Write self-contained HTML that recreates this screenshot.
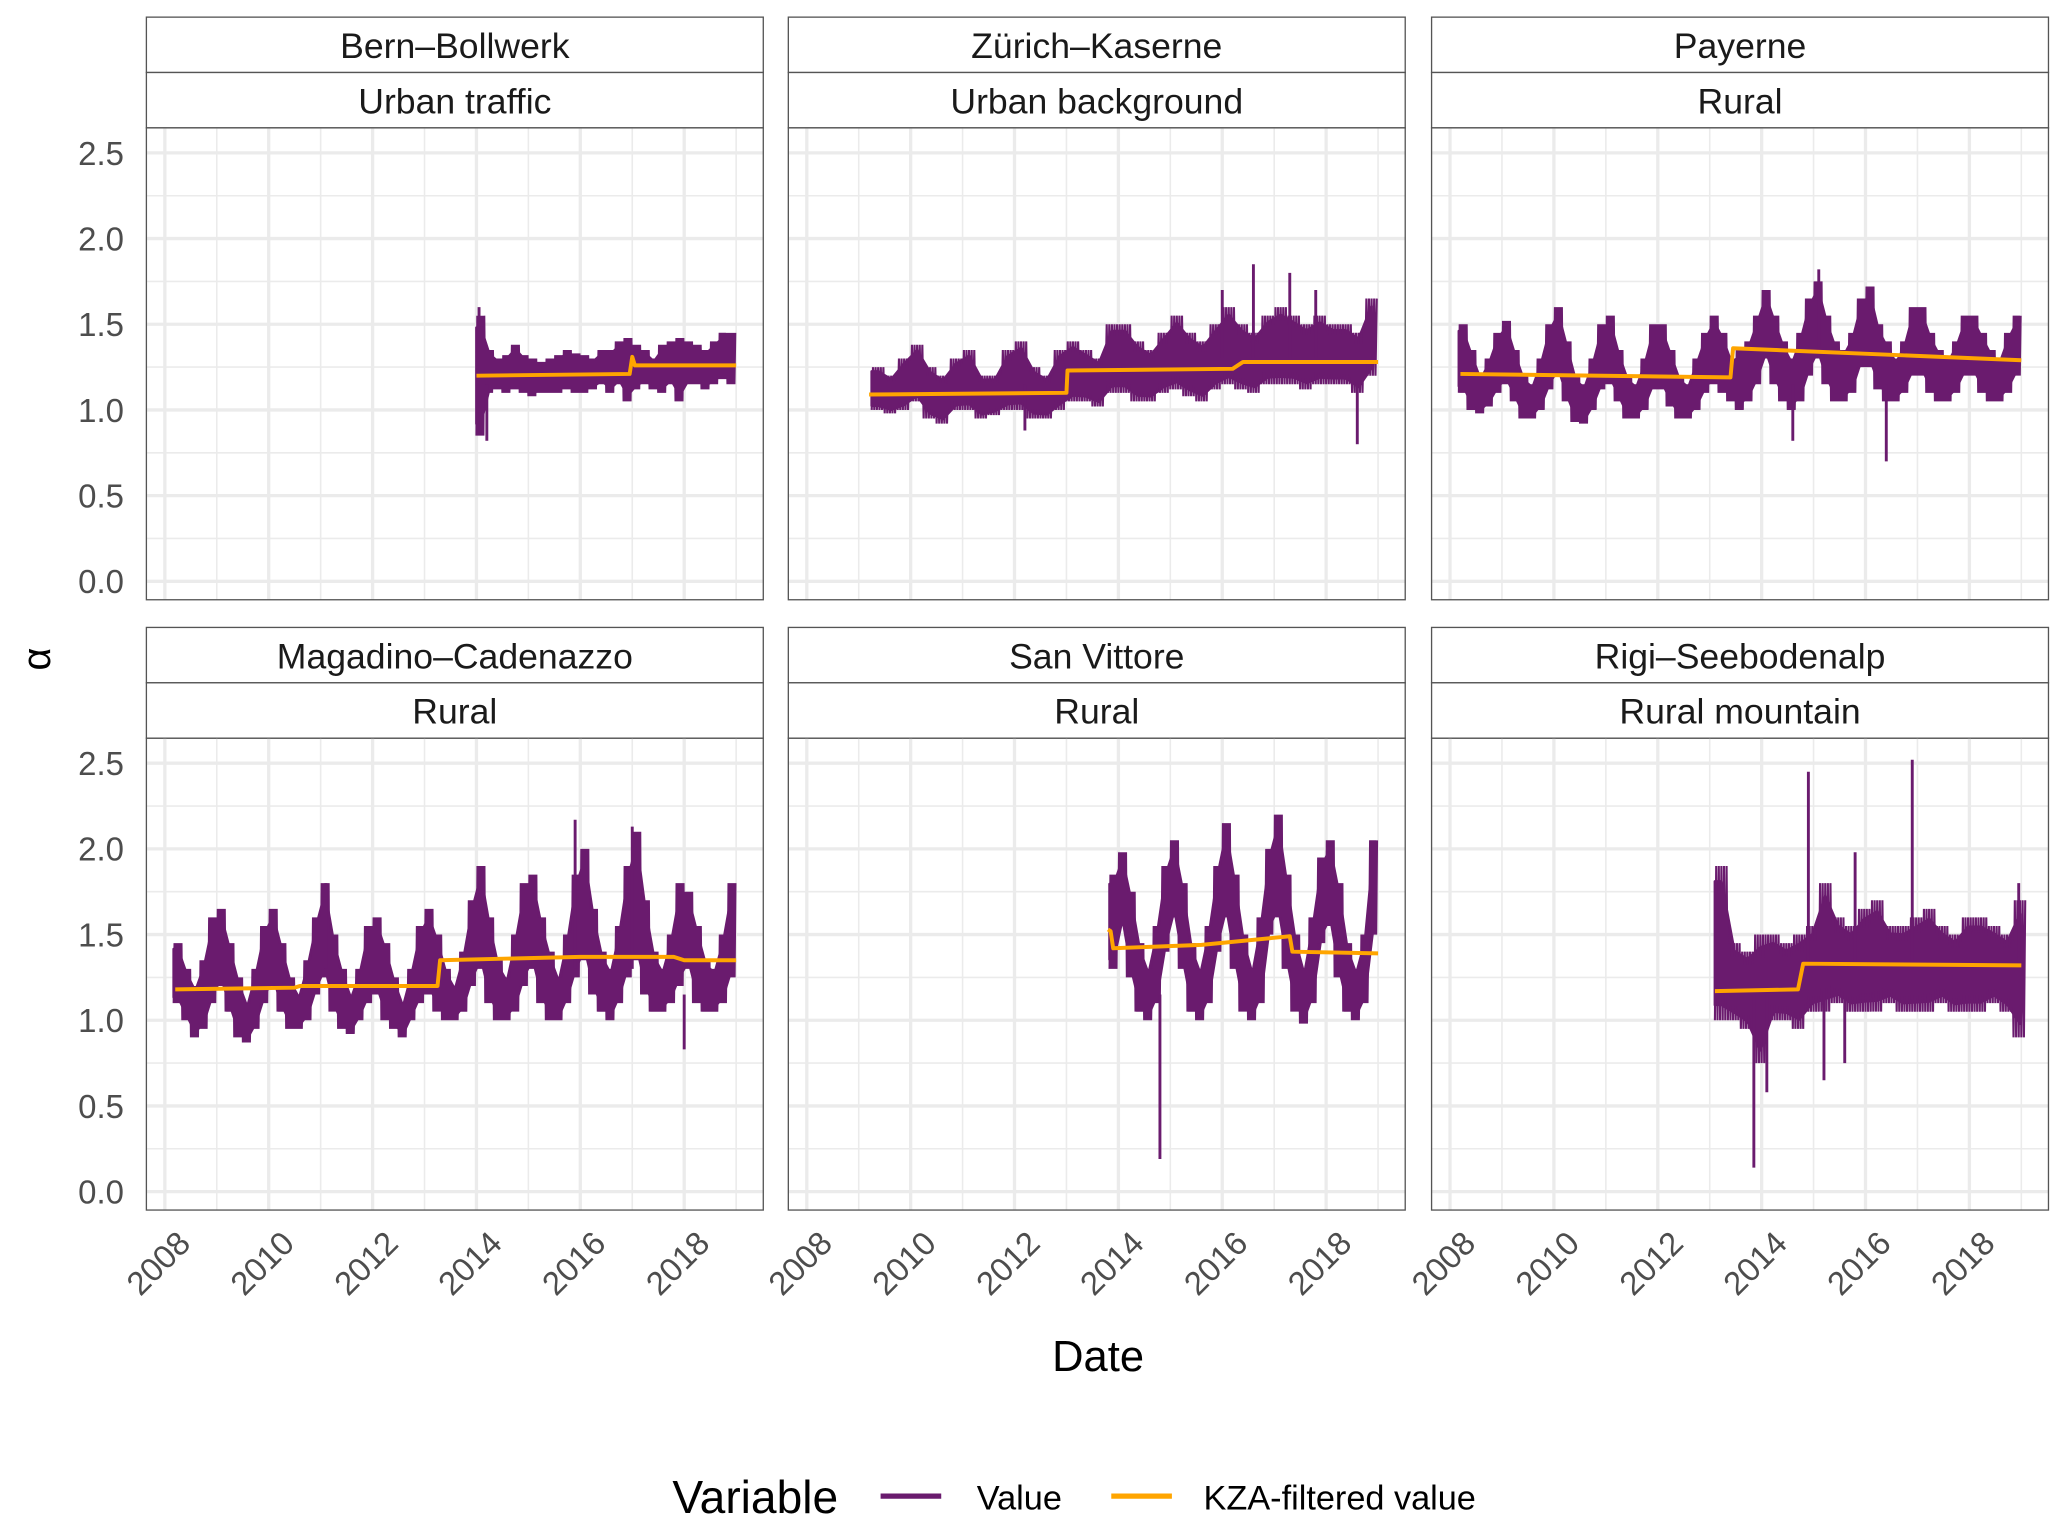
<!DOCTYPE html>
<html><head><meta charset="utf-8"><style>
html,body{margin:0;padding:0;background:#fff}
svg{display:block}
text{font-family:"Liberation Sans",sans-serif}
</style></head><body>
<svg id="chart" width="2067" height="1533" viewBox="0 0 1568 1163" xmlns="http://www.w3.org/2000/svg">
<text x="30" y="500" font-size="30" text-anchor="middle" transform="rotate(-90 30 500)" dy="8">α</text>
<text x="833" y="1040" font-size="33" text-anchor="middle">Date</text>
<g>
<text x="510" y="1148" font-size="35">Variable</text>
<line x1="668" y1="1135" x2="714" y2="1135" stroke="#6a1b6e" stroke-width="4"/>
<text x="741" y="1145" font-size="26">Value</text>
<line x1="843" y1="1135" x2="889" y2="1135" stroke="#ffa500" stroke-width="4"/>
<text x="913" y="1145" font-size="26">KZA-filtered value</text>
</g>
<g id="panels"></g>
</svg>
<script>
const stations=["Bern–Bollwerk","Zürich–Kaserne","Payerne","Magadino–Cadenazzo","San Vittore","Rigi–Seebodenalp"];
const types=["Urban traffic","Urban background","Rural","Rural","Rural","Rural mountain"];
const yTicks=[0,0.5,1,1.5,2,2.5];
const yTickLabels=["0.0","0.5","1.0","1.5","2.0","2.5"];
const xTicks=[2008,2010,2012,2014,2016,2018];
const startYear=[2014.0,2009.25,2008.17,2008.17,2013.83,2013.1];
const stepYear=[1/6,0.25,1/6,1/6,1/6,0.25];
const hiBern=[1.55,1.35,1.3,1.32,1.38,1.32,1.3,1.28,1.3,1.32,1.35,1.33,1.32,1.3,1.35,1.35,1.4,1.42,1.38,1.35,1.3,1.38,1.4,1.42,1.4,1.38,1.35,1.4,1.45,1.45];
const loBern=[0.85,1.1,1.12,1.1,1.12,1.1,1.08,1.1,1.1,1.1,1.12,1.1,1.1,1.12,1.15,1.1,1.15,1.05,1.12,1.15,1.12,1.1,1.15,1.05,1.15,1.15,1.12,1.15,1.18,1.15];
const hiZurich=[1.25,1.2,1.3,1.38,1.25,1.2,1.3,1.35,1.2,1.2,1.35,1.4,1.25,1.2,1.35,1.4,1.35,1.3,1.5,1.5,1.4,1.35,1.45,1.55,1.45,1.4,1.5,1.6,1.5,1.45,1.55,1.6,1.55,1.5,1.55,1.5,1.5,1.45,1.65];
const loZurich=[1.0,0.98,1.0,1.05,0.95,0.92,1.0,1.0,0.95,0.97,1.0,1.0,0.95,0.95,1.0,1.05,1.05,1.02,1.1,1.1,1.05,1.05,1.1,1.12,1.08,1.05,1.12,1.15,1.12,1.1,1.15,1.15,1.15,1.12,1.15,1.15,1.15,1.1,1.2];
const hiPayerne=[1.5,1.35,1.2,1.3,1.45,1.52,1.35,1.2,1.15,1.3,1.5,1.6,1.4,1.2,1.15,1.3,1.5,1.55,1.35,1.2,1.15,1.3,1.5,1.5,1.35,1.2,1.15,1.3,1.45,1.55,1.45,1.3,1.35,1.4,1.55,1.7,1.55,1.4,1.3,1.45,1.65,1.75,1.55,1.4,1.35,1.45,1.65,1.72,1.5,1.4,1.3,1.4,1.6,1.6,1.45,1.35,1.3,1.4,1.55,1.55,1.45,1.35,1.3,1.45,1.55];
const loPayerne=[1.1,1.0,0.98,1.02,1.1,1.15,1.05,0.95,0.95,1.0,1.12,1.2,1.05,0.93,0.92,1.0,1.12,1.15,1.05,0.95,0.95,1.0,1.12,1.12,1.02,0.95,0.95,1.0,1.1,1.15,1.1,1.05,1.0,1.05,1.15,1.3,1.15,1.05,1.0,1.05,1.2,1.3,1.15,1.05,1.05,1.1,1.25,1.25,1.12,1.05,1.05,1.1,1.2,1.2,1.1,1.05,1.05,1.1,1.2,1.2,1.1,1.05,1.05,1.1,1.2];
const hiMagadino=[1.45,1.3,1.2,1.35,1.6,1.65,1.45,1.25,1.1,1.3,1.55,1.65,1.45,1.25,1.15,1.35,1.6,1.8,1.5,1.3,1.15,1.3,1.55,1.6,1.45,1.25,1.1,1.3,1.55,1.65,1.5,1.3,1.2,1.4,1.7,1.9,1.6,1.35,1.25,1.5,1.8,1.85,1.6,1.4,1.25,1.5,1.85,2.0,1.65,1.4,1.3,1.55,1.9,2.1,1.7,1.4,1.3,1.5,1.8,1.75,1.55,1.35,1.3,1.5,1.8];
const loMagadino=[1.1,1.0,0.9,0.95,1.1,1.2,1.05,0.9,0.87,0.95,1.1,1.2,1.05,0.95,0.95,1.0,1.15,1.25,1.05,0.95,0.92,1.0,1.1,1.15,1.0,0.95,0.9,1.0,1.1,1.15,1.05,1.0,1.0,1.05,1.2,1.3,1.1,1.0,1.0,1.05,1.2,1.3,1.1,1.0,1.0,1.1,1.25,1.35,1.15,1.05,1.0,1.1,1.25,1.35,1.15,1.05,1.05,1.1,1.2,1.3,1.1,1.05,1.05,1.1,1.25];
const hiSanVittore=[1.85,1.98,1.75,1.45,1.3,1.55,1.9,2.05,1.8,1.45,1.3,1.55,1.9,2.15,1.85,1.5,1.3,1.6,2.0,2.2,1.85,1.5,1.3,1.6,1.95,2.05,1.8,1.45,1.3,1.5,2.05];
const loSanVittore=[1.3,1.55,1.25,1.05,1.0,1.1,1.4,1.6,1.3,1.05,1.0,1.1,1.4,1.6,1.3,1.05,1.0,1.1,1.5,1.6,1.3,1.05,0.98,1.1,1.45,1.55,1.25,1.05,1.0,1.1,1.5];
const hiRigi=[1.9,1.45,1.4,1.5,1.5,1.45,1.5,1.55,1.8,1.6,1.55,1.65,1.7,1.55,1.55,1.6,1.65,1.55,1.5,1.6,1.6,1.55,1.5,1.7];
const loRigi=[1.0,1.0,0.95,0.75,1.0,1.0,0.95,1.05,1.05,1.1,1.05,1.05,1.05,1.1,1.05,1.05,1.05,1.1,1.05,1.05,1.05,1.1,1.05,0.9];
const spikeT=[[2014.05,2014.2],[2012.2,2016.6,2017.3,2018.6,2016.0,2017.8],[2014.6,2016.4,2015.1],[2015.9,2017.0,2018.0,2011.1],[2014.8],[2013.85,2014.1,2014.9,2015.2,2016.9,2015.8,2015.6,2018.95]];
const spikeV=[[1.6,0.82],[0.88,1.85,1.8,0.8,1.7,1.7],[0.82,0.7,1.82],[2.17,2.13,0.83,1.8],[0.19],[0.14,0.58,2.45,0.65,2.52,1.98,0.75,1.8]];
const kzaT=[[2014.0,2016.95,2017.0,2017.05,2017.1,2019.0],[2009.2,2013.0,2013.02,2016.2,2016.4,2019.0],[2008.2,2013.4,2013.45,2019.0],[2008.2,2010.5,2010.6,2013.25,2013.3,2016.0,2017.8,2018.0,2019.0],[2013.8,2013.85,2013.9,2015.6,2017.3,2017.35,2019.0],[2013.1,2014.7,2014.8,2019.0]];
const kzaV=[[1.2,1.21,1.31,1.26,1.26,1.26],[1.09,1.1,1.23,1.24,1.28,1.28],[1.21,1.19,1.36,1.29],[1.18,1.19,1.2,1.2,1.35,1.37,1.37,1.35,1.35],[1.53,1.52,1.42,1.44,1.49,1.4,1.39],[1.17,1.18,1.33,1.32]];
const hiAll=[hiBern,hiZurich,hiPayerne,hiMagadino,hiSanVittore,hiRigi];
const loAll=[loBern,loZurich,loPayerne,loMagadino,loSanVittore,loRigi];

const NS="http://www.w3.org/2000/svg";
const root=document.getElementById('panels');
function mk(tag,attrs,parent){const e=document.createElementNS(NS,tag);for(const k in attrs)e.setAttribute(k,attrs[k]);parent.appendChild(e);return e;}
const colX=[111,598,1086],W=468;
const rowTop=[13,476];
stations.forEach((name,i)=>{
  const c=i%3,r=Math.floor(i/3);
  const x0=colX[c],top=rowTop[r];
  const pTop=top+84,pBot=pTop+358;
  const y0=pTop+344, ppu=(344-19)/2.5;
  const xs=t=>x0+14+(t-2008)*39.4;
  const ys=v=>y0-v*ppu;
  const g=mk('g',{},root);
  
  
  const s1=mk('rect',{x:x0,y:top,width:W,height:42,fill:'#fff',stroke:'#555','stroke-width':1},g);
  
  
  const s2=mk('rect',{x:x0,y:top+42,width:W,height:42,fill:'#fff',stroke:'#555','stroke-width':1},g);
  
  
  const t1=mk('text',{x:x0+W/2,y:top+31,'font-size':27,'text-anchor':'middle',fill:'#1a1a1a'},g);t1.textContent=name;
  
  
  const t2=mk('text',{x:x0+W/2,y:top+73,'font-size':27,'text-anchor':'middle',fill:'#1a1a1a'},g);t2.textContent=types[i];
  
  
  for(let v=0.25;v<2.6;v+=0.5){mk('line',{x1:x0,x2:x0+W,y1:ys(v),y2:ys(v),stroke:'#ebebeb','stroke-width':1.2},g);}
  for(let y=2009;y<=2019;y+=2){mk('line',{x1:xs(y),x2:xs(y),y1:pTop,y2:pBot,stroke:'#ebebeb','stroke-width':1.2},g);}
  yTicks.forEach(v=>{const l=mk('line',{x1:x0,x2:x0+W,y1:ys(v),y2:ys(v),stroke:'#ebebeb','stroke-width':2.5},g);
    
    });
  xTicks.forEach(v=>{const l=mk('line',{x1:xs(v),x2:xs(v),y1:pTop,y2:pBot,stroke:'#ebebeb','stroke-width':2.5},g);
    
    });
  const border=mk('rect',{x:x0,y:pTop,width:W,height:358,fill:'none',stroke:'#555','stroke-width':1},g);
  
  
  if(c===0){yTicks.forEach((v,k)=>{const tt=mk('text',{x:x0-17,y:ys(v)+9,'font-size':25,'text-anchor':'end',fill:'#4d4d4d'},g);tt.textContent=yTickLabels[k];
    
    });}
  if(r===1){xTicks.forEach(v=>{const tx=xs(v)+8,ty=pBot+14;const tt=mk('text',{x:tx,y:ty,'font-size':25,'text-anchor':'end',fill:'#4d4d4d',transform:`rotate(-45 ${tx} ${ty})`,dy:18},g);tt.textContent=v;
    
    });}
  const hi=hiAll[i],lo=loAll[i],st=startYear[i],dt=stepYear[i];
  let up=[],dn=[],zig=[];
  hi.forEach((h,k)=>{const tc=st+(k+0.5)*dt;const m=(h+lo[k])/2;
    const hh=m+(h-m)*0.8, ll=m+(lo[k]-m)*0.8;
    up.push(xs(tc)+','+ys(hh));
    dn.unshift(xs(tc)+','+ys(ll));
    const ta=st+k*dt;
    for(let q=0;q<10;q++){const tq=ta+dt*q/10;zig.push(xs(tq)+','+ys(q%2?h:lo[k]));}
  });
  up.unshift(xs(st)+','+ys((hi[0]+lo[0])/2+(hi[0]-lo[0])*0.4));
  dn.push(xs(st)+','+ys((hi[0]+lo[0])/2-(hi[0]-lo[0])*0.4));
  const band=mk('polygon',{points:up.concat(dn).join(' '),fill:'#6a1b6e','stroke':'#6a1b6e','stroke-width':2,'stroke-linejoin':'round'},g);
  
  
  const zl=mk('polyline',{points:zig.join(' '),fill:'none',stroke:'#6a1b6e','stroke-width':1.6},g);
  
  
  spikeT[i].forEach((t,k)=>{const mid=(spikeV[i][k]>1.3)?1.3:1.15;
    const sp=mk('line',{x1:xs(t),x2:xs(t),y1:ys(mid),y2:ys(spikeV[i][k]),stroke:'#6a1b6e','stroke-width':2.2},g);
    
    });
  const kp=kzaT[i].map((t,k)=>xs(t)+','+ys(kzaV[i][k])).join(' ');
  const kl=mk('polyline',{points:kp,fill:'none',stroke:'#ffa500','stroke-width':3,'stroke-linejoin':'round'},g);
  
  
});
</script>
</body></html>
